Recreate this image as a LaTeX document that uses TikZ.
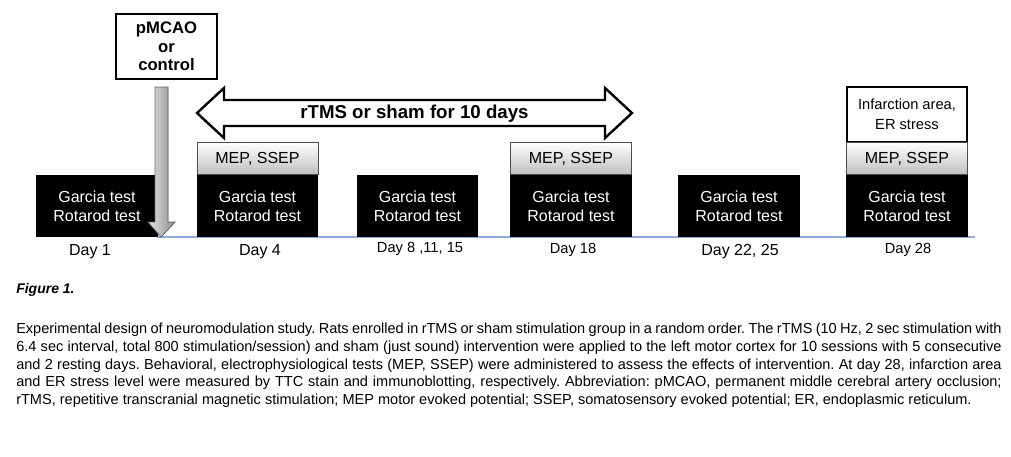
\documentclass[tikz,border=0pt]{standalone}
\usepackage{fontspec}
\setmainfont{Liberation Sans}
\frenchspacing
\begin{document}
\begin{tikzpicture}[x=0.75pt,y=-0.75pt,
  blk/.style={fill=black,text=white,minimum width=91pt,minimum height=46.5pt,inner sep=0pt,align=center,font=\fontsize{12}{14.5}\selectfont},
  mep/.style={draw=black!70,top color=white,bottom color=black!25,minimum width=91pt,minimum height=24pt,inner sep=0pt,font=\fontsize{12}{14}\selectfont},
  day/.style={font=\fontsize{12}{14}\selectfont}]
\useasboundingbox (0,0) rectangle (1011,457);
\draw[color=cyan!40!blue!45,line width=1pt] (157,237) -- (975,237);
\foreach \n/\x in {b1/97,b4/257.5,b8/417.5,b18/571,b22/739,b28/907}
  \node[blk] (\n) at (\x,206) {Garcia test\\Rotarod test};
\node[mep,anchor=south] (m4) at (b4.north) {MEP, SSEP};
\node[mep,anchor=south] (m18) at (b18.north) {MEP, SSEP};
\node[mep,anchor=south] (m28) at (b28.north) {MEP, SSEP};
\node[draw,line width=1.2pt,anchor=south,minimum width=90pt,minimum height=41pt,align=center,inner sep=0pt,font=\fontsize{11}{15}\selectfont] (inf) at (m28.north) {Infarction area,\\ER stress};
\node[draw,line width=1.8pt,minimum width=76pt,minimum height=49pt,align=center,inner sep=0pt,font=\bfseries\fontsize{12.5}{14}\selectfont] (p) at (166.5,46.5) {pMCAO\\or\\control};
\coordinate (tip) at (161,237);
\fill[left color=black!10,right color=black!45] (155,87) -- (168,87) -- (168,222) -- (175,222) -- (tip) -- (148,222) -- (155,222) -- cycle;
\draw[black!60,line width=0.6pt] (155,87) -- (168,87) -- (168,222) -- (175,222) -- (tip) -- (148,222) -- (155,222) -- cycle;
\coordinate (L) at (197,113);
\coordinate (R) at (632,113);
\draw[line width=1.8pt,fill=white,line join=miter] (L) -- (224,88) -- (224,100) -- (605,100) -- (605,88) -- (R) -- (605,138) -- (605,126) -- (224,126) -- (224,138) -- cycle;
\node[font=\bfseries\fontsize{14}{16}\selectfont] (rt) at (414.5,114) {rTMS or sham for 10 days};
\node[day] at (90,252) {Day 1};
\node[day] at (260,252) {Day 4};
\node[day,font=\fontsize{11}{13}\selectfont] at (420,249) {Day 8 ,11, 15};
\node[day,font=\fontsize{11}{13}\selectfont] at (573,250) {Day 18};
\node[day] at (740,252) {Day 22, 25};
\node[day,font=\fontsize{11}{13}\selectfont] at (908,250) {Day 28};
\node[anchor=west,font=\bfseries\itshape\fontsize{10.5}{12}\selectfont,inner sep=0pt] (fig) at (16,290) {Figure 1.};
\node[anchor=north west,inner sep=0pt,text width=739pt,align=justify,font=\fontsize{10.9}{13.2}\selectfont] (cap) at (16,323) {Experimental design of neuromodulation study. Rats enrolled in rTMS or sham stimulation group in a random order. The rTMS (10 Hz, 2 sec stimulation with 6.4 sec interval, total 800 stimulation/session) and sham (just sound) intervention were applied to the left motor cortex for 10 sessions with 5 consecutive and 2 resting days. Behavioral, electrophysiological tests (MEP, SSEP) were administered to assess the effects of intervention. At day 28, infarction area and ER stress level were measured by TTC stain and immunoblotting, respectively. Abbreviation: pMCAO, permanent middle cerebral artery occlusion; rTMS, repetitive transcranial magnetic stimulation; MEP motor evoked potential; SSEP, somatosensory evoked potential; ER, endoplasmic reticulum.};
\end{tikzpicture}
\end{document}
